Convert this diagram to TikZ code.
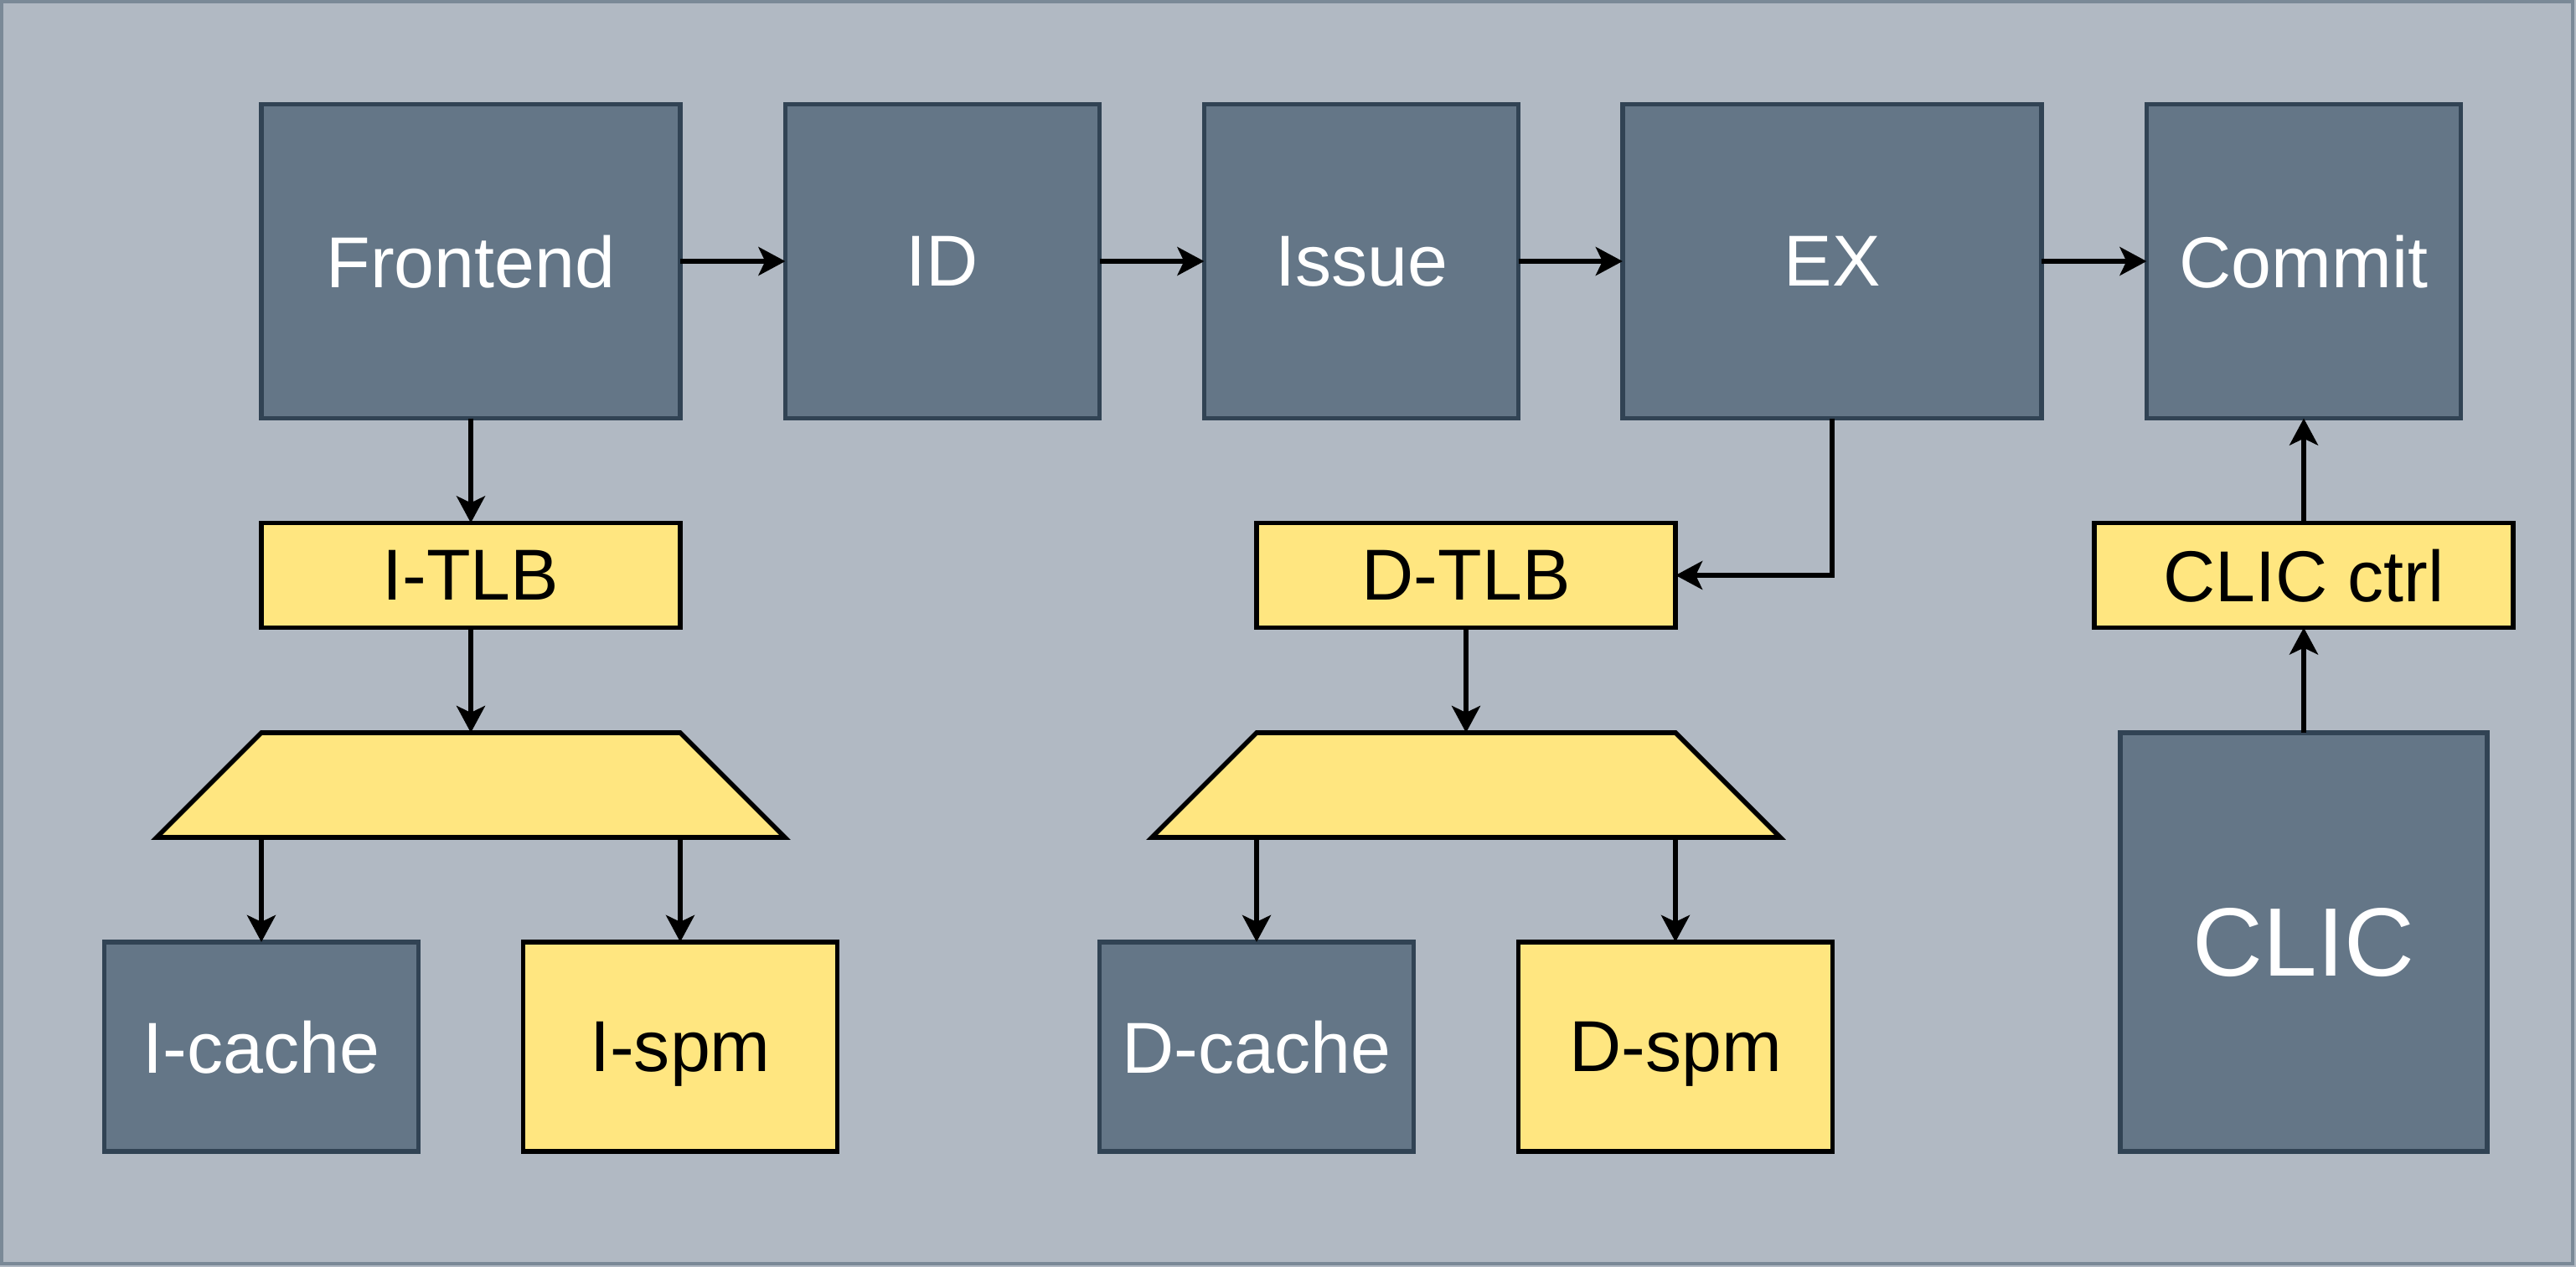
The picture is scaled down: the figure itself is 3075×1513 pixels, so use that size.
\documentclass[tikz,border=0pt]{standalone}
\usepackage{fontspec}
\setmainfont{Liberation Sans}
\usetikzlibrary{arrows.meta}
\definecolor{bgc}{HTML}{B1B9C3}
\definecolor{bgborder}{HTML}{7A8997}
\definecolor{darkfill}{HTML}{647687}
\definecolor{darkstroke}{HTML}{314354}
\definecolor{ylwfill}{HTML}{FFE680}
\begin{document}
\begin{tikzpicture}[x=0.01cm,y=-0.01cm,
  base/.style={inner sep=0pt, outer sep=0pt, line width=1.6pt, text depth=0pt, font=\fontsize{24.5}{29}\selectfont},
  dark/.style={base, draw=darkstroke, fill=darkfill, text=white},
  ylw/.style={base, draw=black, fill=ylwfill, text=black},
  arr/.style={line width=1.5pt, -{Stealth[length=0.32cm, width=0.34cm, inset=0.08cm]}}
]
\useasboundingbox (0,0) rectangle (3075,1513);
\fill[bgc] (0,0) rectangle (3075,1513);
\draw[bgborder, line width=1.2pt] (2,2) rectangle (3071,1509);

% top row
\node[dark, minimum width=5cm, minimum height=3.75cm] (fe) at (562,312) {Frontend};
\node[dark, minimum width=3.75cm, minimum height=3.75cm] (id) at (1125,312) {ID};
\node[dark, minimum width=3.75cm, minimum height=3.75cm] (iss) at (1625,312) {Issue};
\node[dark, minimum width=5cm, minimum height=3.75cm] (ex) at (2187,312) {EX};
\node[dark, minimum width=3.75cm, minimum height=3.75cm] (cm) at (2750,312) {Commit};

% TLBs
\node[ylw, minimum width=5cm, minimum height=1.25cm] (itlb) at (562,687) {I-TLB};
\node[ylw, minimum width=5cm, minimum height=1.25cm] (dtlb) at (1750,687) {D-TLB};
\node[ylw, minimum width=5cm, minimum height=1.25cm] (cctrl) at (2750,687) {CLIC ctrl};

% trapezoids
\draw[line width=1.6pt, fill=ylwfill] (312,875) -- (812,875) -- (937,1000) -- (187,1000) -- cycle;
\draw[line width=1.6pt, fill=ylwfill] (1500,875) -- (2000,875) -- (2125,1000) -- (1375,1000) -- cycle;
\coordinate (itraptop) at (562,875);
\coordinate (itrapl) at (312,1000);
\coordinate (itrapr) at (812,1000);
\coordinate (dtraptop) at (1750,875);
\coordinate (dtrapl) at (1500,1000);
\coordinate (dtrapr) at (2000,1000);

% bottom row
\node[dark, minimum width=3.75cm, minimum height=2.5cm] (icache) at (312,1250) {I-cache};
\node[ylw, minimum width=3.75cm, minimum height=2.5cm] (ispm) at (812,1250) {I-spm};
\node[dark, minimum width=3.75cm, minimum height=2.5cm] (dcache) at (1500,1250) {D-cache};
\node[ylw, minimum width=3.75cm, minimum height=2.5cm] (dspm) at (2000,1250) {D-spm};
\node[dark, minimum width=4.375cm, minimum height=5cm, font=\fontsize{33}{40}\selectfont] (clic) at (2750,1125) {CLIC};

% connectors
\draw[arr] (fe) -- (id);
\draw[arr] (id) -- (iss);
\draw[arr] (iss) -- (ex);
\draw[arr] (ex) -- (cm);
\draw[arr] (fe) -- (itlb);
\draw[arr] (itlb) -- (itraptop);
\draw[arr] (itrapl) -- (icache);
\draw[arr] (itrapr) -- (ispm);
\draw[arr] (ex.south) |- (dtlb.east);
\draw[arr] (dtlb) -- (dtraptop);
\draw[arr] (dtrapl) -- (dcache);
\draw[arr] (dtrapr) -- (dspm);
\draw[arr] (clic) -- (cctrl);
\draw[arr] (cctrl) -- (cm);
\end{tikzpicture}
\end{document}
